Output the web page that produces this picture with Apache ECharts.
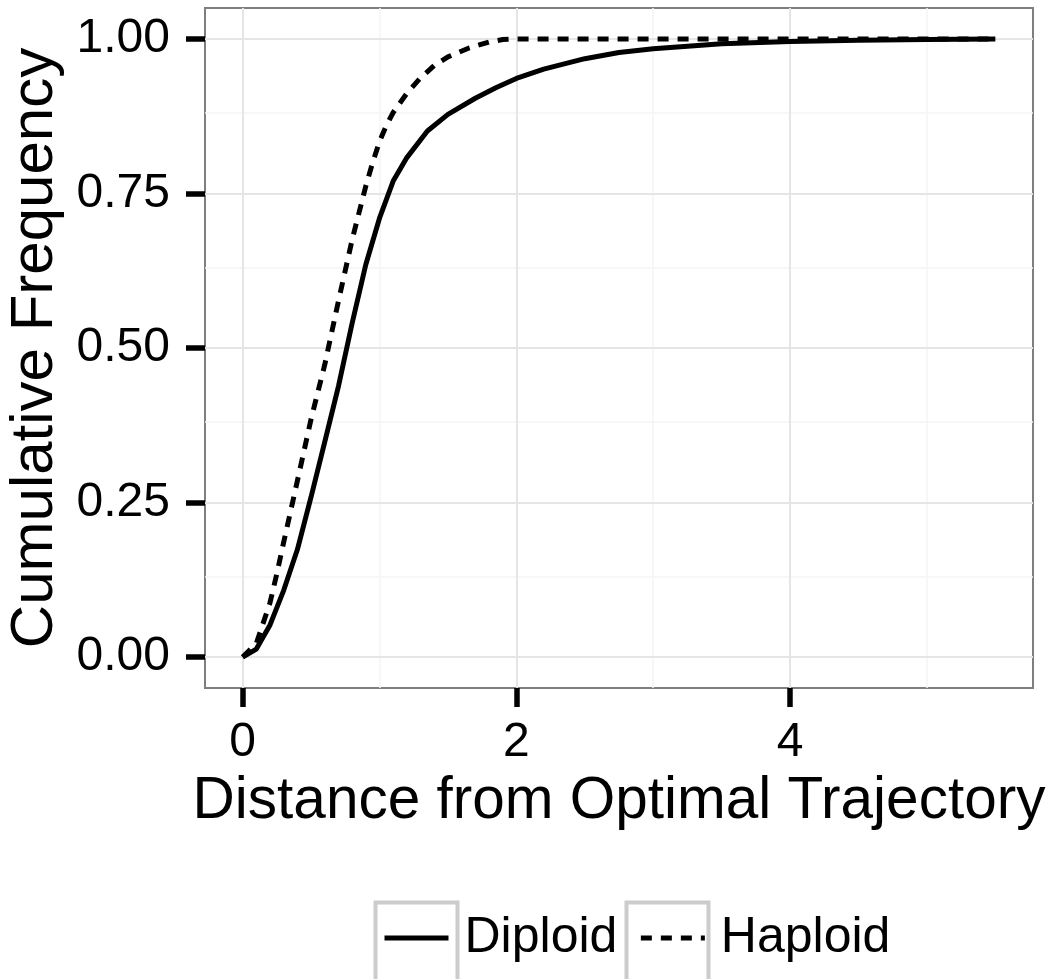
<!DOCTYPE html>
<html>
<head>
<meta charset="utf-8">
<script src="https://cdn.jsdelivr.net/npm/echarts@6/dist/echarts.min.js"></script>
<style>
html,body{margin:0;padding:0;background:#fff;}
#chart{width:1055px;height:979px;}
</style>
</head>
<body>
<div id="chart"></div>
<script>
// Data
const diploidX = [0, 0.1, 0.2, 0.3, 0.4, 0.5, 0.6, 0.7, 0.8, 0.9, 1.0, 1.1, 1.2, 1.35, 1.5, 1.7, 1.85, 2.0, 2.2, 2.5, 2.75, 3.0, 3.5, 4.0, 4.5, 5.0, 5.5];
const diploidY = [0, 0.013, 0.052, 0.108, 0.174, 0.259, 0.348, 0.438, 0.54, 0.635, 0.71, 0.77, 0.808, 0.851, 0.878, 0.904, 0.921, 0.936, 0.951, 0.968, 0.978, 0.984, 0.992, 0.996, 0.998, 0.999, 1.0];
const haploidX = [0, 0.1, 0.15, 0.2, 0.25, 0.3, 0.4, 0.5, 0.6, 0.7, 0.8, 0.9, 0.95, 1.0, 1.05, 1.1, 1.2, 1.3, 1.4, 1.5, 1.65, 1.8, 1.9, 2.0, 5.5];
const haploidY = [0, 0.022, 0.055, 0.088, 0.135, 0.186, 0.285, 0.385, 0.473, 0.576, 0.675, 0.762, 0.8, 0.834, 0.86, 0.881, 0.912, 0.937, 0.957, 0.971, 0.985, 0.995, 0.999, 1.0, 1.0];
const seriesNames = ['Diploid', 'Haploid'];
const xTicks = [0, 2, 4];
const xMinorTicks = [1, 3, 5];
const yTicks = [0, 0.25, 0.5, 0.75, 1.0];
const yMinorTicks = [0.125, 0.375, 0.625, 0.875];
const xTitle = 'Distance from Optimal Trajectory';
const yTitle = 'Cumulative Frequency';

const FONT = 'Liberation Sans, Arial, Helvetica, sans-serif';
const zip = (xs, ys) => xs.map((x, i) => [x, ys[i]]);

const gridLines = [];
xMinorTicks.forEach(v => gridLines.push({xAxis: v, lineStyle: {color: '#f4f4f4', width: 1.5, type: 'solid'}}));
yMinorTicks.forEach(v => gridLines.push({yAxis: v, lineStyle: {color: '#f4f4f4', width: 1.5, type: 'solid'}}));
xTicks.forEach(v => gridLines.push({xAxis: v, lineStyle: {color: '#e5e5e5', width: 2, type: 'solid'}}));
yTicks.forEach(v => gridLines.push({yAxis: v, lineStyle: {color: '#e5e5e5', width: 2, type: 'solid'}}));

const chart = echarts.init(document.getElementById('chart'), null, {renderer: 'canvas'});
chart.setOption({
  animation: false,
  backgroundColor: '#ffffff',
  textStyle: {fontFamily: FONT},
  grid: {
    left: 205, right: 22, top: 8, bottom: 291,
    containLabel: false, outerBoundsMode: 'none',
    show: true, backgroundColor: '#ffffff', borderColor: '#7f7f7f', borderWidth: 2
  },
  xAxis: {
    type: 'value', min: -0.275, max: 5.775,
    axisLine: {show: false, onZero: false},
    splitLine: {show: false},
    axisTick: {show: true, customValues: xTicks, length: 19, lineStyle: {color: '#000', width: 5.5, type: 'solid'}},
    axisLabel: {customValues: xTicks, color: '#000', fontSize: 48, fontFamily: FONT, margin: 31},
    name: xTitle, nameLocation: 'middle', nameGap: 81,
    nameTextStyle: {fontSize: 58.5, color: '#000', fontFamily: FONT}
  },
  yAxis: {
    type: 'value', min: -0.05, max: 1.05,
    axisLine: {show: false, onZero: false},
    splitLine: {show: false},
    axisTick: {show: true, customValues: yTicks, length: 19, lineStyle: {color: '#000', width: 5.5, type: 'solid'}},
    axisLabel: {customValues: yTicks, color: '#000', fontSize: 48, fontFamily: FONT, margin: 35,
      formatter: v => Number(v).toFixed(2)},
    name: yTitle, nameLocation: 'middle', nameGap: 136, nameRotate: 90,
    nameTextStyle: {fontSize: 60, color: '#000', fontFamily: FONT}
  },
  legend: {
    data: seriesNames,
    left: 382, top: 913, padding: 0,
    itemWidth: 64, itemHeight: 20, itemGap: 21,
    itemStyle: {opacity: 0},
    lineStyle: {width: 5},
    textStyle: {fontSize: 50, color: '#000', fontFamily: FONT, padding: [0, 0, 0, 11]}
  },
  graphic: [
    {type: 'rect', left: 373, top: 900, shape: {width: 82, height: 90}, style: {fill: 'none', stroke: '#cccccc', lineWidth: 4}, z: -1},
    {type: 'rect', left: 624, top: 900, shape: {width: 82, height: 90}, style: {fill: 'none', stroke: '#cccccc', lineWidth: 4}, z: -1}
  ],
  series: [
    {
      name: 'grid', type: 'line', data: [], silent: true, z: 1,
      markLine: {silent: true, symbol: 'none', label: {show: false}, animation: false, data: gridLines}
    },
    {
      name: seriesNames[0], type: 'line', data: zip(diploidX, diploidY), z: 5,
      symbol: 'none', showSymbol: false, smooth: false,
      lineStyle: {color: '#000', width: 5, type: 'solid'}, itemStyle: {color: '#000'}
    },
    {
      name: seriesNames[1], type: 'line', data: zip(haploidX, haploidY), z: 5,
      symbol: 'none', showSymbol: false, smooth: false,
      lineStyle: {color: '#000', width: 5, type: [11, 9]}, itemStyle: {color: '#000'}
    }
  ]
});
</script>
</body>
</html>
